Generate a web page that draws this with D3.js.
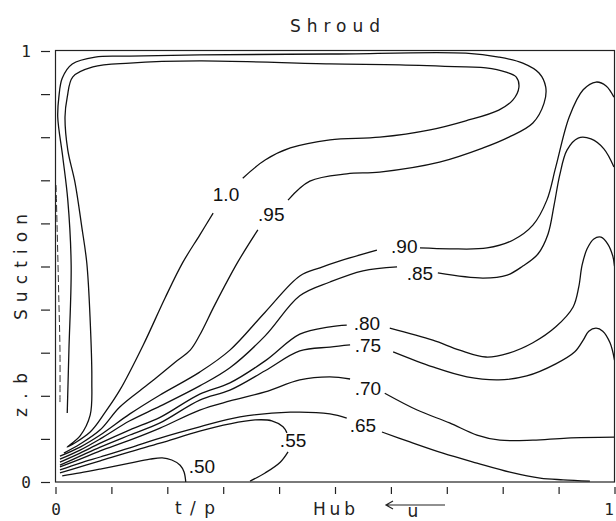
<!DOCTYPE html>
<html>
<head>
<meta charset="utf-8">
<script src="https://cdn.jsdelivr.net/npm/d3@7"></script>
<style>
  body { margin: 0; background: #fff; }
  svg { display: block; }
  .contour { fill: none; stroke: #111; stroke-width: 1.3px; }
  .wall { fill: none; stroke: #333; stroke-width: 1px; stroke-dasharray: 7,3; }
  .frame { fill: none; stroke: #222; stroke-width: 1.2px; }
  .axis path { display: none; }
  .axis line { stroke: #222; stroke-width: 1.2px; }
  .axis text { font-family: "DejaVu Sans Mono", monospace; font-size: 16px; fill: #222; }
  .plotter { font-family: "DejaVu Sans", sans-serif; font-size: 17px; fill: #222; }
  .clabel { font-family: "Liberation Sans", Arial, sans-serif; font-size: 19px; fill: #111; }
</style>
</head>
<body>
<div id="chart"></div>
<script>
// contour lines, [t/p, z/b] pairs
let c100 = [[0.335,0.705],[0.375,0.747],[0.420,0.775],[0.491,0.794],[0.580,0.800],[0.670,0.817],[0.734,0.838],
  [0.793,0.863],[0.818,0.886],[0.829,0.916],[0.824,0.940],[0.806,0.951],[0.770,0.961],[0.734,0.963],[0.616,0.968],
  [0.491,0.970],[0.258,0.977],[0.133,0.972],[0.067,0.963],[0.031,0.940],[0.021,0.893],[0.017,0.847],[0.022,0.770],
  [0.035,0.694],[0.047,0.592],[0.056,0.508],[0.062,0.376],[0.065,0.237],[0.062,0.155],[0.044,0.107],[0.021,0.081],
  [0.062,0.116],[0.089,0.162],[0.115,0.213],[0.157,0.318],[0.196,0.427],[0.228,0.510],[0.258,0.573],[0.282,0.624]];
let c095a = [[0.021,0.160],[0.024,0.306],[0.028,0.503],[0.022,0.654],[0.013,0.754],[0.004,0.847],[0.006,0.893],
  [0.012,0.937],[0.030,0.970],[0.071,0.986],[0.133,0.988],[0.258,0.991],[0.491,0.993],[0.734,0.995],[0.793,0.986],
  [0.836,0.972],[0.865,0.949],[0.877,0.916],[0.874,0.879],[0.854,0.833],[0.811,0.800],[0.765,0.775],[0.687,0.742],
  [0.580,0.719],[0.521,0.715],[0.455,0.698],[0.416,0.654]];
let c095b = [[0.362,0.585],[0.326,0.510],[0.285,0.411],[0.258,0.341],[0.241,0.306],[0.214,0.278],[0.169,0.230],
  [0.115,0.174],[0.080,0.121],[0.044,0.088],[0.015,0.067]];
let c090a = [[0.008,0.060],[0.044,0.081],[0.080,0.109],[0.133,0.158],[0.187,0.202],[0.258,0.255],[0.312,0.306],
  [0.375,0.394],[0.437,0.478],[0.473,0.497],[0.509,0.513],[0.575,0.538]];
let c090b = [[0.652,0.543],[0.705,0.541],[0.772,0.543],[0.818,0.561],[0.854,0.596],[0.879,0.654],[0.895,0.731],
  [0.919,0.847],[0.944,0.910],[0.967,0.928],[0.985,0.919],[0.999,0.893]];
let c085a = [[0.008,0.053],[0.044,0.074],[0.080,0.100],[0.133,0.142],[0.187,0.176],[0.258,0.223],[0.312,0.265],
  [0.375,0.339],[0.437,0.432],[0.491,0.464],[0.550,0.490],[0.611,0.499]];
let c085b = [[0.684,0.485],[0.765,0.473],[0.808,0.480],[0.836,0.501],[0.863,0.529],[0.881,0.575],[0.892,0.643],
  [0.902,0.712],[0.915,0.770],[0.935,0.798],[0.958,0.796],[0.981,0.773],[0.999,0.731]];
let c080a = [[0.008,0.046],[0.044,0.067],[0.080,0.090],[0.133,0.121],[0.187,0.150],[0.258,0.204],[0.312,0.230],
  [0.375,0.281],[0.437,0.343],[0.491,0.360],[0.521,0.364]];
let c080b = [[0.598,0.357],[0.675,0.329],[0.723,0.306],[0.770,0.290],[0.811,0.299],[0.854,0.323],[0.895,0.360],
  [0.926,0.406],[0.936,0.452],[0.942,0.503],[0.951,0.541],[0.963,0.564],[0.976,0.568],[0.988,0.552],[0.997,0.524],
  [1.0,0.501]];
let c075a = [[0.008,0.039],[0.044,0.060],[0.080,0.081],[0.133,0.109],[0.187,0.137],[0.258,0.190],[0.312,0.213],
  [0.375,0.258],[0.437,0.304],[0.491,0.313],[0.527,0.318]];
let c075b = [[0.604,0.302],[0.675,0.267],[0.736,0.244],[0.793,0.237],[0.843,0.246],[0.895,0.274],[0.929,0.302],
  [0.944,0.329],[0.954,0.350],[0.967,0.357],[0.979,0.350],[0.992,0.323],[1.0,0.283]];
let c070a = [[0.008,0.035],[0.044,0.053],[0.080,0.072],[0.133,0.097],[0.187,0.125],[0.258,0.167],[0.312,0.188],
  [0.375,0.209],[0.437,0.237],[0.491,0.244],[0.527,0.239]];
let c070b = [[0.589,0.206],[0.647,0.167],[0.705,0.137],[0.754,0.109],[0.795,0.097],[0.854,0.097],[0.915,0.102],
  [1.0,0.104]];
let c065a = [[0.008,0.028],[0.044,0.044],[0.080,0.058],[0.133,0.079],[0.187,0.102],[0.258,0.128],[0.330,0.151],
  [0.420,0.162],[0.491,0.158],[0.521,0.148]];
let c065b = [[0.584,0.116],[0.634,0.093],[0.693,0.067],[0.754,0.044],[0.813,0.023],[0.867,0.009],[0.908,0.005],
  [0.956,0.002]];
let c055a = [[0.008,0.021],[0.044,0.035],[0.080,0.049],[0.133,0.070],[0.187,0.090],[0.258,0.118],[0.312,0.135],
  [0.357,0.144],[0.387,0.142],[0.407,0.128],[0.414,0.114]];
let c055b = [[0.416,0.070],[0.402,0.046],[0.375,0.021],[0.348,0.002]];
let c050 = [[0.012,0.014],[0.044,0.021],[0.080,0.030],[0.133,0.044],[0.169,0.053],[0.191,0.056],[0.208,0.051],
  [0.223,0.039],[0.230,0.023],[0.233,0.0]];
// broken line hugging the suction wall
let wallLine = [[0.001,0.689],[0.003,0.585],[0.006,0.422],[0.008,0.306],[0.008,0.183]];

// contour labels
let labelText = ["1.0", ".95", ".90", ".85", ".80", ".75", ".70", ".65", ".55", ".50"];
let labelX = [0.305, 0.386, 0.624, 0.652, 0.557, 0.559, 0.559, 0.550, 0.425, 0.262];
let labelY = [0.668, 0.622, 0.548, 0.485, 0.369, 0.318, 0.218, 0.132, 0.097, 0.037];

// ticks
let xTicks = [0, 0.1, 0.2, 0.3, 0.4, 0.5, 0.6, 0.7, 0.8, 0.9, 1];
let xTickLabels = ["0", "", "", "", "", "", "", "", "", "", "1"];
let yTicks = [0, 0.1, 0.2, 0.3, 0.4, 0.5, 0.6, 0.7, 0.8, 0.9, 1];
let yTickLabels = ["0", "", "", "", "", "", "", "", "", "", "1"];

let contours = [c100, c095a, c095b, c090a, c090b, c085a, c085b, c080a, c080b,
  c075a, c075b, c070a, c070b, c065a, c065b, c055a, c055b, c050];

let width = 616;
let height = 521;

let x = d3.scaleLinear().domain([0, 1]).range([55.5, 614.5]);
let y = d3.scaleLinear().domain([0, 1]).range([482, 51]);

let svg = d3.select("#chart").append("svg")
  .attr("width", width)
  .attr("height", height);

svg.append("clipPath").attr("id", "plotclip")
  .append("rect")
  .attr("x", x(0)).attr("y", y(1) - 1)
  .attr("width", x(1) - x(0)).attr("height", y(0) - y(1) + 1);

let line = d3.line()
  .x(function(d) { return x(d[0]); })
  .y(function(d) { return y(d[1]); })
  .curve(d3.curveCatmullRom.alpha(0.5));

let plot = svg.append("g").attr("clip-path", "url(#plotclip)");

plot.selectAll(".contour")
  .data(contours)
  .enter().append("path")
  .attr("class", "contour")
  .attr("d", line);

plot.append("path")
  .datum(wallLine)
  .attr("class", "wall")
  .attr("d", line);

// frame
svg.append("rect")
  .attr("class", "frame")
  .attr("x", x(0))
  .attr("y", y(1) - 0.5)
  .attr("width", x(1) - x(0))
  .attr("height", y(0) - y(1) + 0.5);

// contour values
svg.selectAll(".clabel")
  .data(labelText)
  .enter().append("text")
  .attr("class", "clabel")
  .attr("x", function(d, i) { return x(labelX[i]); })
  .attr("y", function(d, i) { return y(labelY[i]); })
  .attr("dy", "0.36em")
  .attr("text-anchor", "middle")
  .text(function(d) { return d; });

// axes, ticks sit away from the frame
let xAxis = svg.append("g")
  .attr("class", "axis")
  .attr("transform", "translate(0,487)")
  .call(d3.axisBottom(x).tickValues(xTicks).tickSize(7).tickPadding(10)
    .tickFormat(function(d, i) { return xTickLabels[i]; }));
// keep the last label inside the window
xAxis.selectAll("text").filter(function(d) { return d === 1; })
  .attr("text-anchor", "end").attr("x", -1);

svg.append("g")
  .attr("class", "axis")
  .attr("transform", "translate(50,0)")
  .call(d3.axisLeft(y).tickValues(yTicks).tickSize(9).tickPadding(10)
    .tickFormat(function(d, i) { return yTickLabels[i]; }));

// titles
svg.append("text").attr("class", "plotter")
  .attr("x", 290).attr("y", 32)
  .attr("textLength", 90).attr("lengthAdjust", "spacing")
  .text("Shroud");

svg.append("text").attr("class", "plotter")
  .attr("transform", "translate(27,320) rotate(-90)")
  .attr("textLength", 106).attr("lengthAdjust", "spacing")
  .text("Suction");

svg.append("text").attr("class", "plotter")
  .attr("transform", "translate(27,417) rotate(-90)")
  .attr("textLength", 44).attr("lengthAdjust", "spacing")
  .text("z.b");

svg.append("text").attr("class", "plotter")
  .attr("x", 175).attr("y", 514)
  .attr("textLength", 40).attr("lengthAdjust", "spacing")
  .text("t/p");

svg.append("text").attr("class", "plotter")
  .attr("x", 313).attr("y", 515)
  .attr("textLength", 42).attr("lengthAdjust", "spacing")
  .text("Hub");

// flow direction arrow
svg.append("path")
  .attr("d", "M445,505 L387,505 M393,501 L386,505 L393,509")
  .attr("fill", "none")
  .attr("stroke", "#222")
  .attr("stroke-width", 1.2);

svg.append("text").attr("class", "plotter")
  .attr("x", 413).attr("y", 517)
  .attr("text-anchor", "middle")
  .text("u");
</script>
</body>
</html>
